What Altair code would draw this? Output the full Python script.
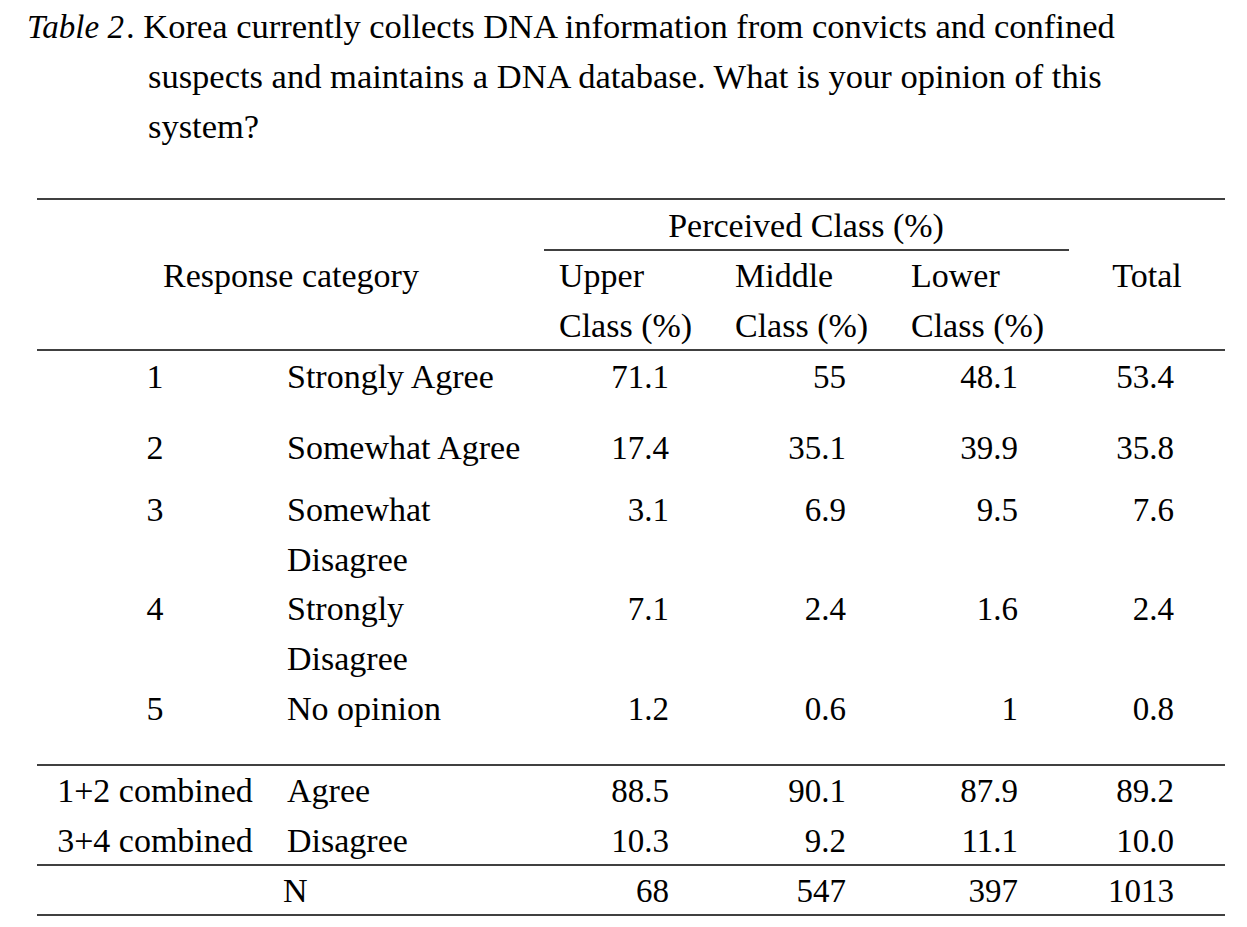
import altair as alt
import pandas as pd

# ---------------- data ----------------
title_label = "Table 2"
title_lines = [
    ". Korea currently collects DNA information from convicts and confined",
    "suspects and maintains a DNA database. What is your opinion of this",
    "system?",
]
group_header = "Perceived Class (%)"
stub_header = "Response category"
class_headers = ["Upper\nClass (%)", "Middle\nClass (%)", "Lower\nClass (%)"]
total_header = "Total"

row_codes = ["1", "2", "3", "4", "5", "1+2 combined", "3+4 combined", ""]
row_labels = ["Strongly Agree", "Somewhat Agree", "Somewhat\nDisagree",
              "Strongly\nDisagree", "No opinion", "Agree", "Disagree", "N"]
upper = ["71.1", "17.4", "3.1", "7.1", "1.2", "88.5", "10.3", "68"]
middle = ["55", "35.1", "6.9", "2.4", "0.6", "90.1", "9.2", "547"]
lower = ["48.1", "39.9", "9.5", "1.6", "1", "87.9", "11.1", "397"]
total = ["53.4", "35.8", "7.6", "2.4", "0.8", "89.2", "10.0", "1013"]

# ---------------- layout (page pixel units) ----------------
W, H = 1231, 911
FONT = "Liberation Serif"
FS_TITLE = 34.5
FS_TEXT = 34
FS_NUM = 33
LH = 50
TITLE_X0, TITLE_X1, TITLE_Y = 27, 126, 28
TITLE_INDENT = 148
ROW_Y = [378, 449, 511, 610, 710, 792, 842, 892]
CODE_X = 155
LABEL_X = [287, 287, 287, 287, 287, 287, 287, 283]
NUM_RIGHT = [669, 846, 1018, 1174]
CLASS_LEFT = [559, 735, 911]
HDR_Y = [227, 277]
LINES = [  # (x, x2, y)
    (37, 1225, 199), (544, 1069, 250), (37, 1225, 350),
    (37, 1225, 765), (37, 1225, 865), (37, 1225, 915),
]

title_l, title_i, left, center, right = [], [], [], [], []

title_i.append({"t": title_label, "x": TITLE_X0, "y": TITLE_Y})
title_l.append({"t": title_lines[0], "x": TITLE_X1, "y": TITLE_Y})
for i, ln in enumerate(title_lines[1:], start=1):
    title_l.append({"t": ln, "x": TITLE_INDENT, "y": TITLE_Y + i * LH})

center.append({"t": group_header, "x": 806, "y": HDR_Y[0]})
center.append({"t": stub_header, "x": 291, "y": HDR_Y[1]})
center.append({"t": total_header, "x": 1147, "y": HDR_Y[1]})
for cx, h in zip(CLASS_LEFT, class_headers):
    for j, part in enumerate(h.split("\n")):
        left.append({"t": part, "x": cx, "y": HDR_Y[1] + j * LH})

cols = [upper, middle, lower, total]
for r, y in enumerate(ROW_Y):
    if row_codes[r]:
        center.append({"t": row_codes[r], "x": CODE_X, "y": y})
    for j, part in enumerate(row_labels[r].split("\n")):
        left.append({"t": part, "x": LABEL_X[r], "y": y + j * LH})
    for c, col in enumerate(cols):
        right.append({"t": col[r], "x": NUM_RIGHT[c], "y": y})

rules = pd.DataFrame(LINES, columns=["x", "x2", "y"])

xs = alt.Scale(domain=[8, 8 + W], nice=False, zero=False)
ys = alt.Scale(domain=[8, 8 + H], nice=False, zero=False, reverse=True)


def text_layer(rows, align, size, style="normal"):
    return alt.Chart(pd.DataFrame(rows)).mark_text(
        align=align, baseline="middle", font=FONT, fontSize=size,
        fontStyle=style, color="black",
    ).encode(
        x=alt.X("x:Q", scale=xs, axis=None),
        y=alt.Y("y:Q", scale=ys, axis=None),
        text="t:N",
    )


rule_layer = alt.Chart(rules).mark_rule(color="black", strokeWidth=1.3).encode(
    x=alt.X("x:Q", scale=xs, axis=None),
    x2="x2:Q",
    y=alt.Y("y:Q", scale=ys, axis=None),
)

chart = alt.layer(
    rule_layer,
    text_layer(title_i, "left", 33, "italic"),
    text_layer(title_l, "left", FS_TITLE),
    text_layer(left, "left", FS_TEXT),
    text_layer(center, "center", FS_TEXT),
    text_layer(right, "right", FS_NUM),
).properties(
    width=W, height=H, padding=0, autosize=alt.AutoSizeParams(type="none"),
    background="white",
).configure_view(stroke=None)

chart.save("out.html", embed_options={"renderer": "svg", "actions": False})
